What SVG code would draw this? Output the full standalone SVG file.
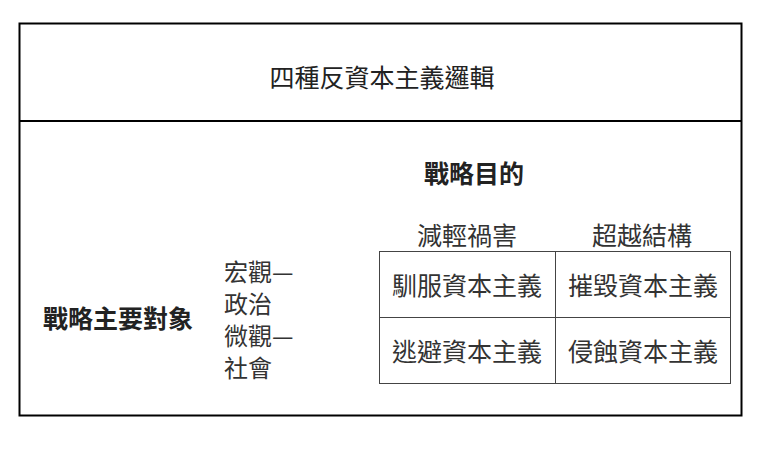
<svg xmlns="http://www.w3.org/2000/svg" width="760" height="450" viewBox="0 0 760 450">
<style>
text{font-family:"Noto Sans CJK TC","Noto Sans CJK SC",sans-serif;font-size:25px;fill:#222;dominant-baseline:central}
.c{text-anchor:middle}
.b{font-weight:bold}
.l{font-size:24px;fill:#333}
.cell{fill:#333}
.frame{fill:none;stroke:#000;stroke-width:2}
.grid{fill:none;stroke:#444;stroke-width:1}
</style>
<rect width="760" height="450" fill="#fff"/>
<g id="frame">
<rect class="frame" x="19.5" y="23.5" width="722" height="392"/>
<line class="frame" x1="19.5" y1="121" x2="741.5" y2="121"/>
</g>
<g id="title"><text class="c" x="382" y="76">四種反資本主義邏輯</text></g>
<g id="purpose"><text class="c b" x="474" y="172">戰略目的</text></g>
<g id="target"><text class="c b" x="118" y="317">戰略主要對象</text></g>
<g id="levels">
<text class="l" x="224" y="270">宏觀—</text>
<text class="l" x="224" y="302">政治</text>
<text class="l" x="224" y="334">微觀—</text>
<text class="l" x="224" y="366">社會</text>
</g>
<g id="colheads">
<text class="c cell" x="467" y="234">減輕禍害</text>
<text class="c cell" x="642" y="234">超越結構</text>
</g>
<g id="grid">
<rect class="grid" x="379.5" y="251.5" width="351" height="132"/>
<line class="grid" x1="555.5" y1="251.5" x2="555.5" y2="383.5"/>
<line class="grid" x1="379.5" y1="317.5" x2="730.5" y2="317.5"/>
</g>
<g id="cell-tame"><text class="c cell" x="467" y="284">馴服資本主義</text></g>
<g id="cell-smash"><text class="c cell" x="643" y="284">摧毀資本主義</text></g>
<g id="cell-escape"><text class="c cell" x="467" y="350">逃避資本主義</text></g>
<g id="cell-erode"><text class="c cell" x="643" y="350">侵蝕資本主義</text></g>
</svg>
